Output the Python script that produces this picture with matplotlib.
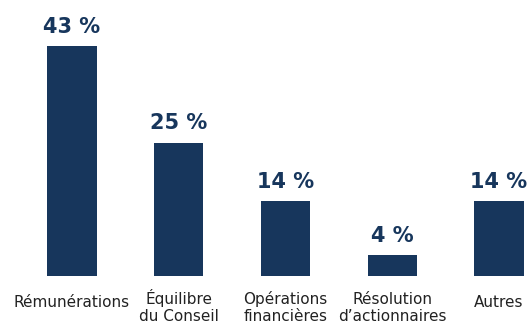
import matplotlib.pyplot as plt

# Share of proposals by topic (%)
categories = ["Rémunérations", "Équilibre\ndu Conseil", "Opérations\nfinancières",
              "Résolution\nd’actionnaires", "Autres"]
shares = [43, 25, 14, 4, 14]

navy = "#17365c"

fig = plt.figure(figsize=(5.28, 3.25), dpi=100)
ax = fig.add_axes([0, 49 / 325, 1, 267 / 325])

x = range(len(categories))
ax.bar(x, shares, width=0.46, color=navy)

# Value labels above each bar
for i, v in zip(x, shares):
    ax.annotate(f"{v} %", (i, v), xytext=(0, 9.4), textcoords="offset points",
                ha="center", va="baseline", fontsize=15, fontweight="bold",
                color=navy)

# Category names under the bars, one annotation per line (offsets in pixels)
for i, name in zip(x, categories):
    lines = name.split("\n")
    first = 31 if len(lines) == 1 else 28
    for k, line in enumerate(lines):
        dy_px = first + 17 * k
        ax.annotate(line, (i, 0), xycoords=("data", "axes fraction"),
                    xytext=(0, -dy_px * 0.72), textcoords="offset points",
                    ha="center", va="baseline", fontsize=11, color="#222222",
                    annotation_clip=False)

ax.set_xlim(-0.675, 4.272)
ax.set_ylim(0, 50)
ax.set_xticks([])
ax.set_yticks([])
for s in ax.spines.values():
    s.set_visible(False)

fig.savefig("out.png", dpi=100)
